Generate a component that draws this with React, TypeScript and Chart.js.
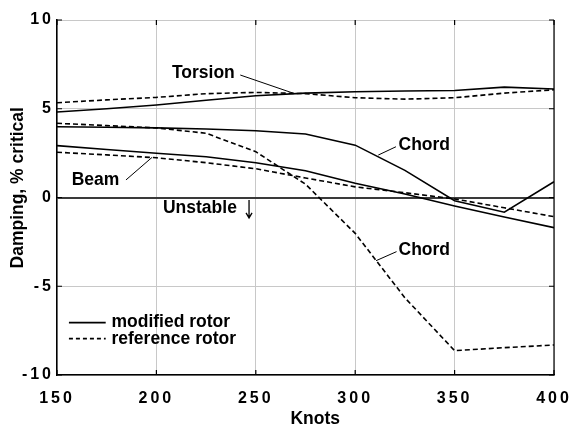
import React, { useEffect, useRef } from 'react';
import { Chart, registerables } from 'chart.js';

Chart.register(...registerables);

// ---- data ----
const knots = [150, 175, 200, 225, 250, 275, 300, 325, 350, 375, 400];

const torsionModified = [4.82, 5.0, 5.21, 5.48, 5.73, 5.88, 5.96, 6.0, 6.03, 6.22, 6.11];
const torsionReference = [5.34, 5.5, 5.64, 5.85, 5.92, 5.85, 5.62, 5.54, 5.62, 5.88, 6.07];
const chordModified = [3.99, 3.96, 3.92, 3.86, 3.76, 3.58, 2.95, 1.53, -0.18, -0.83, 0.89];
const chordReference = [4.18, 4.05, 3.92, 3.62, 2.58, 0.75, -2.02, -5.65, -8.63, -8.46, -8.31];
const beamModified = [2.92, 2.7, 2.49, 2.3, 1.96, 1.51, 0.8, 0.2, -0.48, -1.1, -1.7];
const beamReference = [2.55, 2.4, 2.24, 1.96, 1.62, 1.1, 0.6, 0.27, -0.08, -0.58, -1.08];

const xMin = 150;
const xMax = 400;
const xStep = 50;
const yMin = -10;
const yMax = 10;
const yStep = 5;

const xTitle = 'Knots';
const yTitle = 'Damping, % critical';
const legendLabels = ['modified rotor', 'reference rotor'];

// annotation anchors in data units (knots, % critical)
const labelTexts = ['Torsion', 'Chord', 'Beam', 'Unstable', 'Chord'];
const labelX = [207.8, 321.8, 157.4, 203.3, 321.8];
const labelY = [6.73, 2.68, 0.7, -0.9, -3.24];
// leader lines: [x1, y1, x2, y2] in data units
const leaderLines = [
  [242.2, 6.9, 269.0, 5.87],
  [320.5, 2.86, 311.6, 2.39],
  [184.7, 0.99, 197.8, 2.26],
  [320.8, -3.05, 310.5, -3.56],
];
const unstableArrow = [246.6, -0.14, 246.6, -1.15];
// legend anchor (data units)
const legendLineX = [156.0, 174.5];
const legendTextX = 177.4;
const legendLineY = [-7.05, -7.95];
const legendTextY = [-7.32, -8.25];

const FONT_FAMILY = '"Liberation Sans", Arial, Helvetica, sans-serif';
const ANNOT_FONT = `bold 17.5px ${FONT_FAMILY}`;

const toPoints = (ys: number[]) => knots.map((x, i) => ({ x, y: ys[i] }));

const decorPlugin = {
  id: 'decor',
  beforeDraw(chart: any) {
    (chart.ctx as any).letterSpacing = '0px';
  },
  afterDatasetsDraw(chart: any) {
    const ctx = chart.ctx;
    const { left, right, top, bottom } = chart.chartArea;
    const xs = chart.scales.x;
    const ys = chart.scales.y;
    ctx.save();
    ctx.strokeStyle = '#000';
    ctx.lineWidth = 1.2;
    // right border
    ctx.beginPath();
    ctx.moveTo(right, top);
    ctx.lineTo(right, bottom);
    ctx.stroke();
    // inward tick marks
    const tl = 5;
    ctx.beginPath();
    ys.ticks.forEach((t: any) => {
      const py = ys.getPixelForValue(t.value);
      ctx.moveTo(left, py);
      ctx.lineTo(left + tl, py);
      ctx.moveTo(right, py);
      ctx.lineTo(right - tl, py);
    });
    xs.ticks.forEach((t: any) => {
      const px = xs.getPixelForValue(t.value);
      ctx.moveTo(px, bottom);
      ctx.lineTo(px, bottom - tl);
      ctx.moveTo(px, top);
      ctx.lineTo(px, top + tl);
    });
    ctx.stroke();
    ctx.restore();
    // tick labels are drawn after this with extra letter spacing
    (ctx as any).letterSpacing = '3px';
  },
  afterDraw(chart: any) {
    const ctx = chart.ctx;
    (ctx as any).letterSpacing = '0px';
    const xs = chart.scales.x;
    const ys = chart.scales.y;
    const X = (v: number) => xs.getPixelForValue(v);
    const Y = (v: number) => ys.getPixelForValue(v);
    ctx.save();
    ctx.fillStyle = '#000';
    ctx.strokeStyle = '#000';
    ctx.font = ANNOT_FONT;
    ctx.textAlign = 'left';
    ctx.textBaseline = 'alphabetic';
    labelTexts.forEach((t, i) => {
      ctx.fillText(t, X(labelX[i]), Y(labelY[i]));
    });
    ctx.lineWidth = 1;
    ctx.beginPath();
    leaderLines.forEach(([x1, y1, x2, y2]) => {
      ctx.moveTo(X(x1), Y(y1));
      ctx.lineTo(X(x2), Y(y2));
    });
    ctx.stroke();
    // arrow
    const [ax1, ay1, ax2, ay2] = unstableArrow;
    const axp = X(ax1);
    const ay2p = Y(ay2);
    ctx.lineWidth = 1.3;
    ctx.beginPath();
    ctx.moveTo(axp, Y(ay1));
    ctx.lineTo(X(ax2), ay2p);
    ctx.moveTo(axp - 3, ay2p - 5);
    ctx.lineTo(axp, ay2p);
    ctx.lineTo(axp + 3, ay2p - 5);
    ctx.stroke();
    // legend
    legendLabels.forEach((lab, i) => {
      ctx.lineWidth = 1.6;
      ctx.setLineDash(i === 0 ? [] : [4, 3]);
      ctx.beginPath();
      ctx.moveTo(X(legendLineX[0]), Y(legendLineY[i]));
      ctx.lineTo(X(legendLineX[1]), Y(legendLineY[i]));
      ctx.stroke();
      ctx.setLineDash([]);
      ctx.fillText(lab, X(legendTextX), Y(legendTextY[i]));
    });
    ctx.restore();
  },
};

export default function App() {
  const canvasRef = useRef<HTMLCanvasElement | null>(null);

  useEffect(() => {
    const canvas = canvasRef.current;
    if (!canvas) return;
    const solid = { borderColor: '#000', borderWidth: 1.6, pointRadius: 0, tension: 0, fill: false };
    const dashed = { ...solid, borderWidth: 1.6, borderDash: [5, 3] };
    const chart = new Chart(canvas, {
      type: 'line',
      data: {
        datasets: [
          { label: 'Torsion modified', data: toPoints(torsionModified), ...solid },
          { label: 'Torsion reference', data: toPoints(torsionReference), ...dashed },
          { label: 'Chord modified', data: toPoints(chordModified), ...solid },
          { label: 'Chord reference', data: toPoints(chordReference), ...dashed },
          { label: 'Beam modified', data: toPoints(beamModified), ...solid },
          { label: 'Beam reference', data: toPoints(beamReference), ...dashed },
        ],
      },
      options: {
        animation: false,
        responsive: false,
        devicePixelRatio: 1,
        layout: { padding: { top: 20, right: 22, left: 0, bottom: 0 } },
        plugins: {
          legend: { display: false },
          tooltip: { enabled: false },
        },
        scales: {
          x: {
            type: 'linear',
            min: xMin,
            max: xMax,
            afterFit: (s: any) => {
              s.height = 56;
              s.paddingLeft = 0;
              s.paddingRight = 0;
            },
            ticks: {
              stepSize: xStep,
              color: '#000',
              padding: 14,
              maxRotation: 0,
              font: { family: FONT_FAMILY, size: 16, weight: 'bold' },
              z: 1,
            },
            grid: { color: '#c8c8c8', lineWidth: 1, drawTicks: false },
            border: { display: true, color: '#000', width: 1.5 },
            title: {
              display: true,
              text: '    ' + xTitle,
              color: '#000',
              font: { family: FONT_FAMILY, size: 17.5, weight: 'bold' },
              padding: { top: 0, bottom: 1 },
            },
          },
          y: {
            type: 'linear',
            min: yMin,
            max: yMax,
            afterFit: (s: any) => {
              s.width = 57;
              s.paddingTop = 0;
              s.paddingBottom = 0;
            },
            ticks: {
              stepSize: yStep,
              color: '#000',
              padding: 3,
              font: { family: FONT_FAMILY, size: 16, weight: 'bold' },
              z: 1,
            },
            grid: {
              color: (c: any) => (c.tick && c.tick.value === 0 ? '#3a3a3a' : '#c8c8c8'),
              lineWidth: (c: any) => (c.tick && c.tick.value === 0 ? 2 : 1),
              drawTicks: false,
            },
            border: { display: true, color: '#000', width: 1.5 },
            title: {
              display: true,
              text: '    ' + yTitle,
              color: '#000',
              font: { family: FONT_FAMILY, size: 17.5, weight: 'bold' },
              padding: { top: 8, bottom: 0 },
            },
          },
        },
      } as any,
      plugins: [decorPlugin],
    });
    return () => chart.destroy();
  }, []);

  return (
    <div style={{ position: 'fixed', left: 0, top: 0, width: 576, height: 431, background: '#fff' }}>
      <canvas ref={canvasRef} width={576} height={431} style={{ display: 'block' }} />
    </div>
  );
}
